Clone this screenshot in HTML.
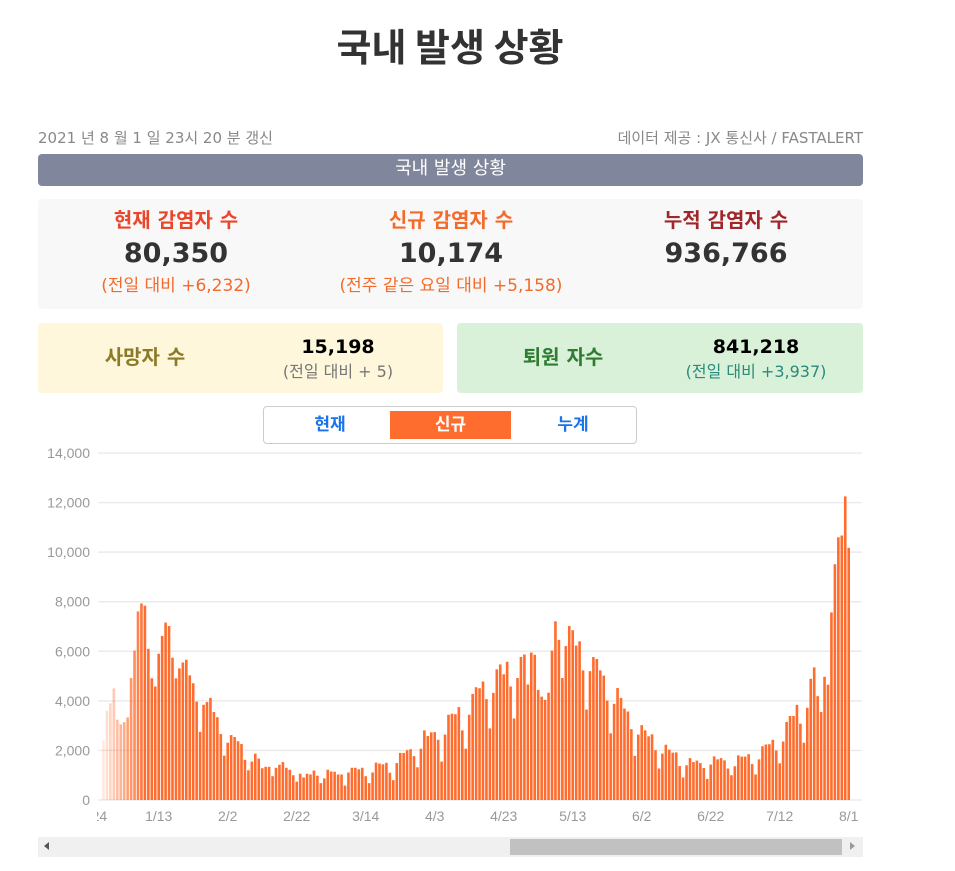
<!DOCTYPE html>
<html><head><meta charset="utf-8"><style>
body{margin:0;width:955px;height:871px;background:#fff;font-family:"DejaVu Sans","Noto Sans CJK KR",sans-serif;position:relative;overflow:hidden}
.a{position:absolute}
.c{text-align:center}
.c div{line-height:33px}
</style></head><body>
<div class="a c" style="left:0;width:900px;top:22px;font-family:'Noto Sans CJK KR',sans-serif;font-size:38px;line-height:46px;font-weight:bold;color:#333">국내 발생 상황</div>
<div class="a" style="left:38px;top:128px;font-size:15px;line-height:20px;color:#888">2021 년 8 월 1 일 23시 20 분 갱신</div>
<div class="a" style="right:92px;top:128px;font-size:15px;line-height:20px;color:#888">데이터 제공 : JX 통신사 / FASTALERT</div>
<div class="a c" style="left:38px;width:825px;top:154px;height:32px;line-height:30px;background:#80879c;border-radius:4px;color:#fff;font-size:18px">국내 발생 상황</div>
<div class="a" style="left:38px;width:825px;top:199px;height:110px;background:#f8f8f8;border-radius:4px"></div>
<div class="a c" style="left:56px;width:240px;top:204px">
 <div style="font-size:20px;font-weight:bold;color:#e8472c">현재 감염자 수</div>
 <div style="font-size:27px;font-weight:bold;color:#333">80,350</div>
 <div style="font-size:17px;color:#f26b2b">(전일 대비 +6,232)</div></div>
<div class="a c" style="left:276px;width:350px;top:204px">
 <div style="font-size:20px;font-weight:bold;color:#f26b2b">신규 감염자 수</div>
 <div style="font-size:27px;font-weight:bold;color:#333">10,174</div>
 <div style="font-size:17px;color:#f26b2b">(전주 같은 요일 대비 +5,158)</div></div>
<div class="a c" style="left:606px;width:240px;top:204px">
 <div style="font-size:20px;font-weight:bold;color:#a0262a">누적 감염자 수</div>
 <div style="font-size:27px;font-weight:bold;color:#333">936,766</div></div>
<div class="a" style="left:38px;width:405px;top:323px;height:70px;background:#fef7dc;border-radius:4px"></div>
<div class="a c" style="left:60px;width:170px;top:343px;font-size:20px;line-height:28px;font-weight:bold;color:#8b7a26">사망자 수</div>
<div class="a c" style="left:238px;width:200px;top:336px"><div style="font-size:19px;font-weight:bold;color:#000;line-height:23px">15,198</div><div style="font-size:16px;color:#777;line-height:25px">(전일 대비 + 5)</div></div>
<div class="a" style="left:457px;width:406px;top:323px;height:70px;background:#d9f0d9;border-radius:4px"></div>
<div class="a c" style="left:478px;width:170px;top:343px;font-size:20px;line-height:28px;font-weight:bold;color:#2e7d32">퇴원 자수</div>
<div class="a c" style="left:646px;width:220px;top:336px"><div style="font-size:19px;font-weight:bold;color:#000;line-height:23px">841,218</div><div style="font-size:16px;color:#2a8a7a;line-height:25px">(전일 대비 +3,937)</div></div>
<div class="a" style="left:263px;width:372px;top:406px;height:36px;border:1px solid #ccc;border-radius:4px"></div>
<div class="a c" style="left:290px;width:80px;top:413px;font-size:17px;line-height:24px;font-weight:bold;color:#1a73e8">현재</div>
<div class="a c" style="left:390px;width:121px;top:411px;height:28px;line-height:29px;background:#ff6d2e;font-size:17px;font-weight:bold;color:#fff">신규</div>
<div class="a c" style="left:533px;width:80px;top:413px;font-size:17px;line-height:24px;font-weight:bold;color:#1a73e8">누계</div>
<svg class="a" id="chart" style="left:0;top:440px" width="955" height="395"></svg>
<div class="a" style="left:38px;width:825px;top:837px;height:20px;background:#f0f0f0"></div>
<div class="a" style="left:510px;width:332px;top:839px;height:16px;background:#c1c1c1"></div>
<div class="a" style="left:44px;top:842px;width:0;height:0;border-top:4px solid transparent;border-bottom:4px solid transparent;border-right:5px solid #555"></div>
<div class="a" style="left:850px;top:842px;width:0;height:0;border-top:4px solid transparent;border-bottom:4px solid transparent;border-left:5px solid #999"></div>
<script>
const yTicks=[0,2000,4000,6000,8000,10000,12000,14000];
const xLabels=["12/24","1/13","2/2","2/22","3/14","4/3","4/23","5/13","6/2","6/22","7/12","8/1"];
const values=[2400,3600,3900,4500,3240,3050,3140,3330,4920,6030,7610,7930,7840,6100,4910,4580,5900,6620,7160,7020,5740,4910,5310,5550,5660,5030,4710,3970,2750,3840,3950,4120,3550,3340,2660,1790,2310,2620,2540,2370,2260,1620,1200,1550,1870,1670,1280,1340,1340,960,1300,1420,1530,1300,1220,
1000,740,1060,910,1060,1030,1190,980,680,870,1220,1150,1140,1030,1030,580,1110,1300,1300,1240,1300,960,680,1110,1510,1470,1440,1500,1100,800,1490,1900,1900,2010,2050,1770,1320,2070,2810,2580,2730,2740,2430,1550,2640,3440,3480,3460,3750,2810,2070,3440,4280,4550,
4510,4780,4070,2890,4320,5270,5470,5070,5580,4580,3290,4920,5770,5870,4660,5950,5860,4440,4170,4040,4330,6030,7210,6460,4920,6210,7020,6850,6230,6400,5230,3650,5200,5770,5690,5230,5020,4010,2690,3880,4520,4120,3690,3570,2860,1780,2640,3020,2810,2570,2650,2010,1270,
1870,2230,2030,1910,1920,1370,910,1400,1690,1530,1590,1490,1290,850,1430,1760,1640,1690,1600,1270,1000,1360,1800,1750,1750,1850,1450,1030,1640,2170,2240,2250,2430,2000,1480,2360,3150,3390,3390,3840,3080,2310,3720,4890,5350,4190,3550,4970,4650,7570,9510,10600,10670,12250,10174];
const svg=document.getElementById('chart');const NS='http://www.w3.org/2000/svg';
const y0=360,yMax=14000,yTop=13;
const ys=v=>y0-(v/yMax)*(y0-yTop);
const n=values.length,xLast=848.7,step=3.45;
const xs=i=>xLast-(n-1-i)*step;
function mk(t,a){const e=document.createElementNS(NS,t);for(const k in a)e.setAttribute(k,a[k]);svg.appendChild(e);return e;}
yTicks.forEach(t=>{
 const l=mk('line',{x1:98,x2:862,y1:ys(t),y2:ys(t),stroke:'#ebebeb','stroke-width':1.5});
 
 
 const tx=mk('text',{x:90,y:ys(t)+5,'text-anchor':'end','font-size':14,fill:'#999','font-family':'Liberation Sans, sans-serif'});
 tx.textContent=t.toLocaleString('en-US');
 
 
});
values.forEach((v,i)=>{
 const op=i<12?0.15+0.85*i/12:1;
 const r=mk('rect',{x:xs(i)-1.3,y:ys(v),width:2.6,height:y0-ys(v),fill:'#ff6d2e','fill-opacity':op});
 
 
});
xLabels.forEach((s,k)=>{
 const i=n-1-(xLabels.length-1-k)*20;
 const x=xs(i);
 const tx=mk('text',{x:x,y:381,'text-anchor':'middle','font-size':14,fill:'#999','font-family':'Liberation Sans, sans-serif'});
 tx.textContent=s;
 
 
});
const m=mk('rect',{x:0,y:368,width:97,height:27,fill:'#fff'});


</script>
</body></html>
